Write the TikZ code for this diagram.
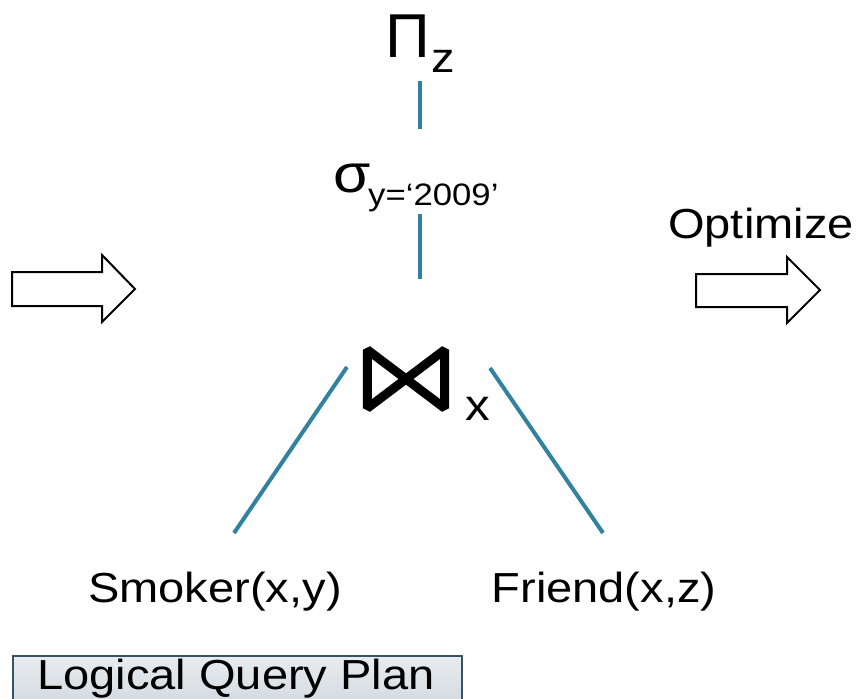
\documentclass[tikz,border=0pt]{standalone}
\usepackage{fontspec}
\setmainfont{Liberation Sans}[FakeStretch=1.12]
\newfontfamily\plainsans{Liberation Sans}
\usepackage{tikz}
\usetikzlibrary{positioning,calc}
\definecolor{edgeteal}{RGB}{49,130,158}
\definecolor{planedge}{RGB}{52,84,100}
\definecolor{plantop}{RGB}{232,236,240}
\definecolor{planbot}{RGB}{204,212,218}
\newcommand{\fsz}[1]{\fontsize{#1}{#1}\selectfont}
\tikzset{
  txt/.style={inner sep=0pt,anchor=base west},
  edge/.style={draw=edgeteal,line width=4pt},
  fatarrow/.style={draw=black,line width=2pt,fill=white,line join=miter},
  planbox/.style={draw=planedge,line width=2pt,top color=plantop,bottom color=planbot,inner sep=0pt}
}
\begin{document}
\begin{tikzpicture}[x=1pt,y=-1pt]
  \useasboundingbox (0,0) rectangle (860,699);
  % operators
  \node[txt,font=\plainsans\fsz{62}] (proj) at (385,57) {Π};
  \node[txt,font=\fsz{42}] (projsub) at (431,72) {z};
  \node[txt,font=\fsz{54}] (sel) at (333,192) {σ};
  \node[txt,font=\fsz{31}] (selsub) at (368,205) {y=`2009'};
  \node[inner sep=0pt,minimum width=77,minimum height=58] (join) at (406,379) {};
  \draw[line width=9pt,line join=bevel]
    (join.north west) -- (join.south east) -- (join.north east) -- (join.south west) -- cycle;
  \node[txt,font=\fsz{44}] (joinsub) at (465,420) {x};
  % relations
  \node[inner sep=0pt,anchor=base,font=\fsz{42}] (smoker) at (215,602) {Smoker(x,y)};
  \node[inner sep=0pt,anchor=base,font=\fsz{42}] (friend) at (604,602) {Friend(x,z)};
  % edge ends
  \coordinate (proj-e) at (420,81);
  \coordinate (sel-n) at (420,129);
  \coordinate (sel-s) at (420,214);
  \coordinate (join-n) at (420,279);
  \coordinate (join-w) at (347,367);
  \coordinate (join-e) at (490,368);
  \coordinate (smoker-e) at (234,533);
  \coordinate (friend-e) at (603,533);
  \draw[edge] (proj-e) -- (sel-n);
  \draw[edge] (sel-s) -- (join-n);
  \draw[edge] (join-w) -- (smoker-e);
  \draw[edge] (join-e) -- (friend-e);
  % arrows
  \draw[fatarrow] (12,272) -- (102,272) -- (102,255) -- (135,289) -- (102,322) -- (102,306) -- (12,306) -- cycle;
  \node[txt,font=\fsz{42}] (optimize) at (668,238) {Optimize};
  \draw[fatarrow] (696,274) -- (787,274) -- (787,257) -- (820,290) -- (787,323) -- (787,307) -- (696,307) -- cycle;
  % caption box
  \node[planbox,anchor=north west,minimum width=449,minimum height=64] (plan) at (12,655) {};
  \node[inner sep=0pt,anchor=base,font=\fsz{42}] (plantext) at (236,689) {Logical Query Plan};
\end{tikzpicture}
\end{document}
